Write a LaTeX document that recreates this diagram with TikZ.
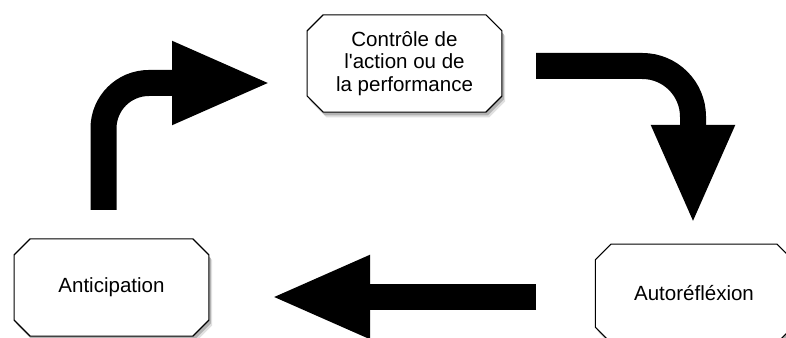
\documentclass[tikz,border=0pt]{standalone}
\usepackage{fontspec}
\setmainfont{Liberation Sans}[Ligatures=TeXOff]
\usetikzlibrary{shapes.misc,shadows,arrows.meta}

\tikzset{
  box/.style={chamfered rectangle, chamfered rectangle xsep=6pt, chamfered rectangle ysep=6pt,
    draw=black, line width=0.8pt, fill=white, inner sep=0pt, align=center,
    minimum width=146pt, minimum height=73pt,
    font=\fontsize{15.4}{17}\selectfont,
    general shadow={shadow xshift=2.5pt, shadow yshift=-4pt, fill=black, opacity=0.12},
    general shadow={shadow xshift=1.5pt, shadow yshift=-2.5pt, fill=black, opacity=0.2}},
  bigarrow/.style={line width=19.5pt, -{Triangle[length=75pt,width=57pt]}}
}

\begin{document}
\begin{tikzpicture}[x=0.75pt,y=0.75pt,yscale=-1,xscale=1]
\useasboundingbox (0,0) rectangle (786,338);

%Shape: Boxes
\node[box] (ctrl) at (404.5,63.5) {Contrôle de\\l'action ou de\\la performance};
\node[box] (anti) at (111.5,287.5) {Anticipation};
\node[box, minimum width=148pt, minimum height=74pt] (auto) at (694,293.5) {Autoréfléxion};

%Arrow ends
\coordinate (anti-out) at (103.5,210);
\coordinate (ctrl-in) at (272,83);
\coordinate (ctrl-out) at (536,66);
\coordinate (auto-in) at (693,225);
\coordinate (auto-out) at (536,297);
\coordinate (anti-in) at (270,297);

%Arrows
\draw[bigarrow, rounded corners=34pt] (anti-out) |- (ctrl-in);
\draw[bigarrow, rounded corners=38pt] (ctrl-out) -| (auto-in);
\draw[bigarrow] (auto-out) -- (anti-in);

\end{tikzpicture}
\end{document}
